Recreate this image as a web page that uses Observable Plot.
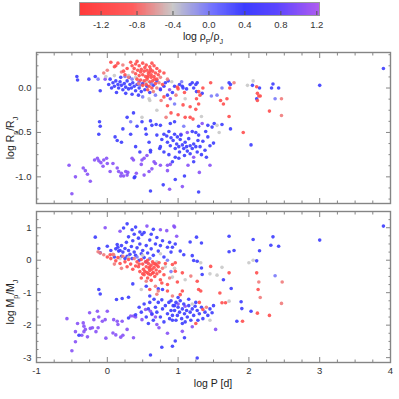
<!DOCTYPE html>
<html><head><meta charset="utf-8">
<script src="https://cdn.jsdelivr.net/npm/d3@7"></script>
<script src="https://cdn.jsdelivr.net/npm/@observablehq/plot@0.6"></script>
<style>
body{margin:0;background:#fff;}
#wrap{position:relative;width:399px;height:399px;font-family:"Liberation Sans",Arial,sans-serif;overflow:hidden;}
#wrap > div{position:absolute;left:0;}
svg{display:block;}
</style></head><body>
<div id="wrap"><div id="cb" style="top:0px"></div><div id="p1" style="top:48px"></div><div id="p2" style="top:206px"></div></div>
<script>
// colour codes (log rho_P/rho_J)
const R=-1.1, r=-0.72, g=-0.4, l=0.0, b=0.4, p=1.0;

// ---------- top panel: [log P, log Rp/RJ, log rhoP/rhoJ] ----------
const topRed=[[0.33,0.29,R],[0.40,0.27,R],[0.45,0.25,R],[0.50,0.28,R],[0.55,0.26,R],[0.60,0.24,R],[0.66,0.25,R],[0.70,0.22,R],[0.38,0.22,R],[0.43,0.20,R],[0.48,0.21,R],[0.52,0.19,R],[0.56,0.20,R],[0.60,0.18,R],[0.64,0.19,R],[0.68,0.17,R],[0.72,0.15,R],[0.40,0.16,R],[0.45,0.14,R],[0.50,0.15,R],[0.54,0.13,R],[0.58,0.14,R],[0.62,0.12,R],[0.66,0.13,R],[0.70,0.10,R],[0.75,0.12,r],[0.42,0.10,R],[0.47,0.09,R],[0.52,0.08,R],[0.56,0.10,R],[0.60,0.07,R],[0.64,0.08,R],[0.68,0.05,R],[0.73,0.06,r],[0.50,0.03,R],[0.55,0.04,R],[0.59,0.02,R],[0.63,0.00,R],[0.70,0.00,r],[0.57,-0.02,R],[0.65,-0.04,r],[0.78,0.04,R],[0.80,0.17,R],[0.85,0.10,r],[0.47,0.18,R],[0.53,0.23,R],[0.58,0.17,R],[0.61,0.21,R],[0.36,0.18,r],[0.57,0.12,R],[0.62,0.15,R],[0.67,0.10,R],[0.44,0.05,r],[0.74,0.19,R],[0.15,0.28,R],[0.22,0.26,r],[0.05,0.29,R],[0.10,0.24,R],[0.28,0.22,R],[0.20,0.18,r],[0.25,0.15,R],[0.30,0.12,r],[0.12,0.25,R],[0.23,0.19,R],[-0.05,0.17,r],[0.00,0.20,r],[0.35,0.25,R],[0.42,0.30,R],[0.63,0.28,R]];
const topBand=[[0.04,0.10,b],[0.08,0.06,b],[0.10,0.02,b],[0.12,0.08,b],[0.15,0.04,b],[0.16,0.00,b],[0.18,0.07,b],[0.20,0.03,b],[0.22,-0.02,b],[0.24,0.05,b],[0.26,0.01,b],[0.28,0.08,b],[0.30,-0.01,b],[0.32,0.04,b],[0.34,0.00,b],[0.36,0.06,b],[0.38,0.02,b],[0.40,-0.03,b],[0.42,0.04,b],[0.45,0.00,b],[0.48,-0.04,b],[0.50,0.05,b],[0.53,-0.02,b],[0.56,0.02,b],[0.60,-0.05,b],[0.65,0.03,b],[0.06,0.00,b],[0.13,-0.05,b],[0.26,-0.06,b],[0.35,-0.07,b],[0.44,-0.08,b],[0.02,0.04,b],[0.19,0.12,b],[0.31,0.12,b],[0.70,0.08,b],[0.75,-0.02,b],[0.80,0.02,b],[0.85,-0.08,b],[0.30,0.14,g],[0.35,0.10,l],[0.25,0.13,l],[0.40,0.12,g],[0.46,0.03,l],[0.55,0.07,g],[0.62,0.05,l],[0.10,0.14,g],[-0.02,0.13,g],[0.68,-0.08,l],[0.50,-0.10,l],[0.60,-0.14,g],[-0.03,0.10,p],[0.75,-0.01,p],[0.89,-0.12,p],[0.45,0.07,p],[-0.43,0.13,b],[-0.42,0.09,b],[-0.17,0.13,b],[-0.10,-0.03,b],[-0.13,0.10,l],[-0.26,0.10,b]];
const topTail=[[0.82,0.06,b],[0.86,0.08,b],[0.91,0.07,g],[0.95,0.02,b],[0.99,0.01,R],[1.00,-0.01,R],[0.88,-0.02,p],[0.92,-0.05,b],[0.97,-0.08,r],[1.02,0.04,b],[0.80,-0.10,R],[0.76,-0.14,r],[0.85,-0.20,R],[0.95,-0.18,l],[0.90,-0.28,R],[0.83,-0.33,r],[1.00,-0.30,R],[0.95,-0.38,b],[0.70,-0.25,g],[0.49,-0.33,g],[0.33,-0.38,l],[0.28,-0.33,b],[0.37,-0.28,b],[0.63,-0.42,b],[0.75,-0.42,b],[0.89,-0.40,b],[-0.10,-0.43,b],[0.59,-0.12,g],
[1.05,0.07,l],[1.06,0.02,b],[1.07,0.00,b],[1.12,-0.01,b],[1.09,-0.05,R],[1.17,0.04,b],[1.20,0.06,b],[1.25,0.04,b],[1.27,0.06,b],[1.22,0.00,b],[1.26,-0.04,b],[1.29,-0.04,R],[1.34,-0.06,b],[1.35,0.00,R],[1.10,-0.12,g],[1.07,-0.19,R],[1.17,-0.21,R],[1.25,-0.24,R],[1.29,-0.18,R],[1.26,-0.12,R],[1.31,-0.08,R],[1.46,0.06,R],[1.47,-0.09,l],[1.55,-0.08,l],[1.60,-0.14,R],[1.64,-0.18,R],[1.69,-0.12,R],[1.72,0.06,b],[1.74,0.04,b],[1.73,0.00,R],[1.62,0.00,l],[1.79,0.06,r],[1.98,0.03,g],[1.10,-0.33,R],[1.17,-0.33,R],[1.21,-0.35,R],[1.33,-0.32,g],[1.72,-0.32,R],[1.08,-0.43,l],[1.29,-0.43,b],[1.34,-0.40,p],[1.39,-0.49,b],[1.42,-0.42,b],[1.48,-0.44,b],[1.51,-0.40,b],[1.55,-0.42,g],[1.62,-0.41,b],[1.74,-0.46,b],[1.04,-0.52,p],[1.13,-0.50,p],[1.20,-0.49,b],[1.25,-0.50,b],[1.58,-0.50,g],[1.92,-0.50,R],
[2.06,0.08,g],[2.05,0.03,b],[2.11,0.015,R],[2.15,0.00,b],[2.12,-0.06,R],[2.14,-0.09,R],[2.16,-0.09,R],[2.11,-0.12,b],[2.12,-0.14,R],[2.29,-0.26,R],[2.32,0.00,b],[2.34,0.045,b],[2.42,0.00,b],[2.37,-0.12,l],[2.46,-0.12,r],[2.46,-0.31,r],[2.03,-0.64,b],[3.00,0.03,b],[3.90,0.22,b]];
const topBlueCloud=[[-0.11,-0.38,b],[-0.12,-0.52,b],[0.11,-0.55,b],[0.14,-0.59,b],[0.20,-0.61,b],[0.22,-0.46,b],[0.33,-0.52,b],[0.40,-0.66,b],[0.42,-0.43,b],[0.46,-0.72,b],[0.49,-0.38,b],[0.54,-0.46,b],[0.55,-0.52,b],[0.61,-0.37,b],[0.59,-0.61,b],[0.61,-0.70,b],[0.69,-0.41,b],[0.70,-0.53,b],[0.74,-0.68,b],[0.75,-0.66,b],[0.77,-0.58,b],[0.80,-0.52,b],[0.84,-0.54,b],[0.85,-0.61,b],[0.87,-0.49,b],[0.89,-0.65,b],[0.90,-0.56,b],[0.93,-0.59,b],[0.95,-0.52,b],[0.96,-0.68,b],[0.98,-0.63,b],[0.99,-0.55,b],[1.01,-0.66,b],[1.02,-0.72,b],[1.03,-0.58,b],[1.04,-0.53,b],[1.06,-0.64,b],[1.08,-0.68,b],[1.09,-0.76,b],[1.10,-0.61,b],[1.12,-0.66,b],[1.13,-0.71,b],[1.15,-0.57,b],[1.17,-0.65,b],[1.17,-0.74,b],[1.20,-0.68,b],[1.22,-0.63,b],[1.25,-0.66,b],[1.27,-0.72,b],[1.28,-0.59,b],[1.29,-0.53,b],[1.31,-0.66,b],[1.01,-0.79,b],[0.96,-0.78,b],[0.87,-0.75,b],[0.80,-0.72,b],[0.92,-0.83,b],[1.22,-0.83,b],[1.35,-0.60,b],[1.38,-0.70,b],[1.42,-0.55,b],[1.45,-0.65,b],[1.40,-0.78,b],[1.50,-0.62,b],[1.33,-0.75,b],[0.79,-1.09,b],[0.61,-1.16,b],[1.29,-1.17,b],[0.39,-1.00,b],[0.96,-1.03,b],[1.09,-0.99,b],[0.61,-0.72,b],[0.38,-1.01,b]];
const topPurple=[[-0.54,-0.87,p],[-0.50,-1.19,p],[-0.45,-1.00,p],[-0.34,-0.90,p],[-0.31,-0.93,p],[-0.28,-0.97,p],[-0.24,-1.05,p],[-0.18,-0.81,p],[-0.14,-0.79,p],[-0.12,-0.82,p],[-0.09,-0.84,p],[-0.06,-0.88,p],[-0.05,-0.81,p],[-0.01,-0.79,p],[0.00,-0.85,p],[0.04,-0.94,p],[0.08,-0.85,p],[0.14,-0.90,p],[0.16,-0.94,p],[0.19,-0.99,p],[0.20,-0.96,p],[0.23,-0.99,p],[0.26,-0.94,p],[0.28,-0.98,p],[0.29,-0.95,p],[0.35,-0.79,p],[0.37,-0.81,p],[0.41,-0.96,p],[0.48,-0.86,p],[0.49,-0.81,p],[0.52,-0.79,p],[0.52,-0.98,p],[0.56,-0.76,p],[0.59,-0.94,p],[0.63,-0.91,p],[0.66,-0.83,p],[0.68,-0.85,p],[0.75,-0.87,p],[0.85,-0.87,p],[0.85,-0.93,p],[0.89,-0.86,p],[1.14,-0.87,p],[1.22,-0.78,p],[0.88,-1.14,p],[1.06,-1.11,p],[1.30,-0.95,p],[1.45,-0.87,p]];

// ---------- bottom panel: [log P, log Mp/MJ, log rhoP/rhoJ] ----------
const botUpper=[[-0.03,1.00,p],[0.18,0.89,p],[0.23,0.99,b],[0.28,1.12,b],[0.35,0.94,b],[0.46,0.87,b],[0.49,0.79,b],[0.56,1.05,p],[0.75,0.94,p],[0.84,0.91,p],[0.94,1.05,p],[-0.17,0.71,b],[0.00,0.43,b],[-0.10,0.23,b],[-0.12,0.36,b],[0.14,0.48,b],[0.16,0.28,b],[0.12,0.35,b],[0.15,0.40,b],[0.18,0.30,b],[0.20,0.45,b],[0.22,0.25,b],[0.25,0.36,b],[0.27,0.55,b],[0.30,0.30,b],[0.32,0.18,b],[0.34,0.42,b],[0.36,0.60,b],[0.38,0.25,b],[0.40,0.15,b],[0.42,0.38,b],[0.44,0.68,b],[0.46,0.50,b],[0.48,0.20,b],[0.50,0.30,b],[0.52,0.08,b],[0.55,0.45,b],[0.57,0.22,b],[0.60,0.62,b],[0.62,0.35,b],[0.65,0.15,b],[0.68,0.50,b],[0.70,0.70,b],[0.72,0.28,b],[0.75,0.45,b],[0.78,0.60,b],[0.80,0.10,b],[0.85,0.40,b],[0.88,0.55,b],[0.90,0.25,b],[0.25,0.05,b],[0.28,0.12,b],[0.35,0.05,b],[0.45,0.00,b],[0.55,-0.05,b],[0.10,0.10,b],[0.20,0.12,b],[0.38,0.80,b],[0.52,0.85,b],[0.30,0.72,b],[0.62,0.80,b],[0.05,0.30,b],[0.65,0.95,b],[0.40,1.02,b],[0.30,0.08,g],[0.42,0.10,l],[0.50,0.15,g],[0.60,0.05,l],[0.70,-0.05,g],[0.75,0.20,g],[0.18,0.05,g],[0.85,0.00,l],[0.82,-0.20,g],[0.90,-0.35,l],[0.95,-0.25,g]];
const botRed=[[-0.13,0.26,r],[-0.05,0.17,r],[0.04,0.17,R],[0.09,0.17,r],[-0.10,0.22,r],[0.00,0.10,R],[0.05,0.05,R],[0.08,0.18,r],[0.12,-0.02,R],[0.15,0.08,R],[0.18,-0.10,R],[0.22,0.12,r],[0.25,-0.05,R],[0.28,-0.20,R],[0.30,0.02,R],[0.33,-0.12,R],[0.36,-0.28,R],[0.38,0.05,r],[0.40,-0.18,R],[0.20,-0.25,r],[0.10,-0.12,r],[0.42,-0.05,R],[0.44,-0.20,R],[0.46,-0.35,R],[0.48,0.02,R],[0.50,-0.12,R],[0.51,-0.28,R],[0.52,-0.45,R],[0.54,-0.05,R],[0.55,-0.20,R],[0.56,-0.38,R],[0.57,-0.55,R],[0.58,-0.10,R],[0.59,-0.25,R],[0.60,-0.32,R],[0.61,-0.45,R],[0.62,-0.15,R],[0.63,-0.28,R],[0.64,-0.05,R],[0.65,-0.38,R],[0.66,-0.22,R],[0.67,-0.50,R],[0.68,-0.12,R],[0.69,-0.30,R],[0.70,-0.42,R],[0.72,-0.20,R],[0.73,-0.08,R],[0.74,-0.35,R],[0.75,-0.60,R],[0.62,-0.62,R],[0.55,-0.65,r],[0.48,-0.55,R],[0.58,-0.42,R],[0.53,-0.35,R],[0.66,-0.10,R],[0.57,0.00,R],[0.60,-0.20,R],[0.64,-0.40,R],[0.70,-0.15,R],[0.50,-0.42,R],[0.45,-0.12,R],[0.78,-0.25,r],[0.80,-0.45,R],[0.82,-0.10,R],[0.77,-0.70,R],[0.68,-0.80,r],[0.60,-0.90,R],[0.72,-0.95,r],[0.85,-0.75,R],[0.88,-0.55,r],[0.70,-1.05,r],[0.85,-0.95,R],[0.92,-1.10,r]];
const botRight=[[0.95,1.02,p],[0.98,0.74,p],[0.96,0.50,b],[0.92,0.40,b],[1.03,0.28,b],[1.08,0.17,b],[1.17,0.56,b],[1.26,0.71,b],[1.33,0.53,b],[1.72,0.74,b],[1.79,0.30,b],[1.72,0.26,b],[1.20,0.14,b],[1.22,-0.01,b],[1.27,-0.03,b],[1.32,-0.08,g],[1.33,-0.24,b],[1.46,-0.19,R],[1.62,-0.22,g],[1.72,-0.39,R],[1.45,-0.42,g],[1.55,-0.46,g],[1.34,-0.44,b],[1.27,-0.65,R],[1.18,-0.49,r],[1.10,-0.60,g],[0.99,-0.67,R],[0.92,-0.52,g],[1.06,-0.39,R],[0.96,-0.34,R],[0.92,-0.13,R],[0.96,-0.08,R],[1.03,-1.06,R],[1.06,-0.95,R],[1.29,-0.90,R],[1.32,-0.95,R],[1.59,-1.01,R],[1.64,-0.60,b],[1.75,-0.87,b],[1.62,-1.31,R],[1.67,-1.31,R],[1.72,-1.26,g],[1.89,-1.28,b],[1.90,-1.49,b],[1.91,-1.88,R],[1.83,-1.88,b],[1.27,-3.01,b],[0.96,-2.49,b],[1.09,-2.39,b],
[3.90,1.05,b],[3.00,0.62,b],[2.06,0.64,b],[2.15,0.29,b],[2.11,-0.02,b],[2.06,0.00,g],[2.00,-0.08,g],[2.34,0.72,b],[2.31,0.46,b],[2.42,0.43,b],[2.37,-0.48,l],[2.11,-0.39,R],[2.14,-0.67,r],[2.13,-0.90,R],[2.16,-1.15,r],[2.47,-0.67,r],[2.46,-1.33,r],[2.03,-1.57,b],[2.12,-1.63,R],[2.29,-1.70,R]];
const botBlueCloud=[[0.90,-1.25,b],[0.93,-1.40,b],[0.95,-1.55,b],[0.97,-1.30,b],[0.99,-1.70,b],[1.00,-1.45,b],[1.02,-1.60,b],[1.03,-1.25,b],[1.05,-1.80,b],[1.06,-1.50,b],[1.08,-1.35,b],[1.09,-1.65,b],[1.10,-1.90,b],[1.12,-1.55,b],[1.13,-1.75,b],[1.15,-1.40,b],[1.17,-1.60,b],[1.18,-1.85,b],[1.20,-1.50,b],[1.22,-1.70,b],[1.25,-1.30,b],[1.27,-1.55,b],[1.30,-1.65,b],[1.33,-1.45,b],[1.35,-1.80,b],[1.38,-1.60,b],[1.42,-1.70,b],[1.45,-1.50,b],[1.48,-1.62,b],[1.50,-1.40,b],[1.00,-1.15,b],[1.15,-1.20,b],[1.28,-1.85,b],[0.92,-1.85,b],[1.06,-1.95,b],[1.24,-1.42,b],[1.20,-1.35,g],[1.30,-1.30,R],[1.35,-1.52,R],[1.40,-1.45,r],[1.10,-1.42,p],[1.00,-1.35,p],[1.45,-1.85,g],[1.25,-1.95,R],
[0.45,-1.45,b],[0.48,-1.60,b],[0.52,-1.35,b],[0.55,-1.75,b],[0.58,-1.50,b],[0.60,-1.30,b],[0.63,-1.65,b],[0.65,-1.85,b],[0.68,-1.45,b],[0.70,-1.60,b],[0.72,-1.30,b],[0.75,-1.75,b],[0.78,-1.50,b],[0.80,-1.90,b],[0.82,-1.40,b],[0.85,-1.65,b],[0.87,-1.30,b],[0.88,-1.80,b],[0.90,-1.55,b],[0.92,-1.70,b],[0.95,-1.40,b],[0.97,-1.85,b],[0.77,-1.22,b],[0.66,-1.20,b],[0.58,-1.95,b],
[-0.12,-0.90,b],[-0.10,-1.04,b],[0.13,-1.21,b],[0.21,-1.18,b],[0.30,-1.14,b],[0.36,-0.73,b],[0.48,-0.90,g],[0.55,-0.80,b],[0.60,-1.10,b],[0.72,-0.88,b],[0.78,-0.90,b],[0.61,-2.92,b],[0.77,-2.68,b],[0.92,-2.65,b],[0.40,-1.68,b],[0.30,-1.78,b]];
const botPurple=[[-0.57,-1.80,p],[-0.50,-2.79,p],[-0.45,-2.20,p],[-0.42,-1.95,p],[-0.40,-2.31,b],[-0.45,-2.51,p],[-0.33,-2.20,p],[-0.28,-2.36,p],[-0.24,-2.10,p],[-0.36,-2.31,p],[-0.34,-1.93,p],[-0.33,-2.03,p],[-0.31,-2.13,p],[-0.25,-1.62,p],[-0.19,-1.83,p],[-0.14,-1.57,p],[-0.12,-1.75,p],[-0.07,-1.88,p],[-0.03,-1.83,p],[0.00,-1.57,p],[-0.13,-2.08,p],[-0.21,-2.08,p],[0.09,-1.83,p],[0.14,-1.88,p],[0.15,-1.98,p],[0.21,-1.88,p],[0.08,-2.24,p],[0.19,-2.37,p],[0.22,-2.31,p],[0.28,-2.13,p],[0.37,-2.39,p],[0.33,-1.72,p],[0.37,-1.72,p],[0.40,-1.75,p],[0.49,-1.83,p],[0.54,-1.52,p],[0.61,-1.57,p],[0.63,-1.67,p],[0.68,-1.75,p],[0.70,-1.98,p],[0.73,-2.08,p],[-0.16,-2.20,p],[-0.02,-2.40,p],[0.12,-2.30,p],[1.06,-2.19,p],[1.53,-2.13,p],[1.20,-2.05,p],[0.85,-2.25,p]];

// ticks
const xMajor=[-1,0,1,2,3,4];
const yTopMajor=[-1.0,-0.5,0.0];
const yBotMajor=[-3,-2,-1,0,1];
const cbTicks=[-1.2,-0.8,-0.4,0.0,0.4,0.8,1.2];
const cbDomain=[-1.44,1.23];

// colour palette
const colorStops=[-1.44,-0.85,-0.4,0.05,0.4,0.75,1.23];
const colorRange=["#ff3a3a","#ff5c5c","#c9c9c9","#7070ff","#3c3cff","#5a45ff","#b05cf0"];
const colorOpts={type:"linear",domain:colorStops,range:colorRange,clamp:true};

const font='"Liberation Sans", Arial, sans-serif';
const frameCol="#858585";

function tickMarks(xMinor, yMajor, yMinor){
  const m=[];
  for(const [ticks,size] of [[xMajor,5],[xMinor,2.5]]){
    m.push(Plot.axisX({anchor:"bottom",ticks,tickSize:size,dy:-size,tickFormat:()=>"",stroke:frameCol,label:null}));
    m.push(Plot.axisX({anchor:"top",ticks,tickSize:size,dy:size,tickFormat:()=>"",stroke:frameCol,label:null}));
  }
  for(const [ticks,size] of [[yMajor,5],[yMinor,2.5]]){
    m.push(Plot.axisY({anchor:"left",ticks,tickSize:size,dx:size,tickFormat:()=>"",stroke:frameCol,label:null}));
    m.push(Plot.axisY({anchor:"right",ticks,tickSize:size,dx:-size,tickFormat:()=>"",stroke:frameCol,label:null}));
  }
  return m;
}

function panel(data,{height,mt,mb,yDomain,yMajor,yMinor,yFmt,xLabels}){
  const xMinor=d3.range(-1,4.001,0.25).filter(v=>!xMajor.includes(v));
  const pts=d3.sort(data,d=>-d[2]);
  const marks=[
    Plot.dot(pts,{x:d=>d[0],y:d=>d[1],fill:d=>d[2],r:1.8,fillOpacity:0.9}),
    Plot.frame({stroke:frameCol,strokeWidth:1.4}),
    ...tickMarks(xMinor,yMajor,yMinor),
    Plot.axisY({anchor:"left",ticks:yMajor,tickSize:0,tickPadding:5,tickFormat:yFmt,label:null,fill:"#333"})
  ];
  if(xLabels) marks.push(Plot.axisX({anchor:"bottom",ticks:xMajor,tickSize:0,tickPadding:5,tickFormat:d=>String(d),label:null,fill:"#333"}));
  return Plot.plot({
    width:399,height,marginLeft:36,marginRight:9,marginTop:mt,marginBottom:mb,
    style:{fontFamily:font,fontSize:"9.5px",background:"transparent",overflow:"visible"},
    x:{domain:[-1,4]},y:{domain:yDomain},color:colorOpts,marks
  });
}

function addText(svg,x,y,rot,parts,size){
  const t=d3.select(svg).append("text")
    .attr("transform",`translate(${x},${y}) rotate(${rot})`)
    .attr("text-anchor","middle").attr("fill","#222")
    .style("font-family",font).style("font-size",size+"px");
  for(const [s,sub] of parts){
    const ts=t.append("tspan").text(s);
    if(sub) ts.attr("baseline-shift","sub").style("font-size",(size*0.68)+"px");
  }
}

// colour bar
const cbSteps=d3.range(cbDomain[0],cbDomain[1],0.01);
const cb=Plot.plot({
  width:399,height:48,marginLeft:79,marginRight:80,marginTop:2,marginBottom:33,
  style:{fontFamily:font,fontSize:"9.5px",background:"transparent",overflow:"visible"},
  x:{domain:cbDomain},y:{domain:[0,1],axis:null},color:colorOpts,
  marks:[
    Plot.rect(cbSteps,{x1:d=>d,x2:d=>Math.min(d+0.03,cbDomain[1]),y1:0,y2:1,fill:d=>d,shapeRendering:"crispEdges"}),
    Plot.frame({stroke:"#999",strokeWidth:1}),
    Plot.axisX({anchor:"bottom",ticks:cbTicks,tickSize:4,dy:-4,tickFormat:()=>"",stroke:"#555",label:null}),
    Plot.axisX({anchor:"bottom",ticks:cbTicks,tickSize:0,tickPadding:6,tickFormat:d=>d.toFixed(1),label:null,fill:"#333"})
  ]
});
addText(cb,203,40,0,[["log ρ",0],["P",1],["/ρ",0],["J",1]],10.5);
document.getElementById("cb").appendChild(cb);

const p1=panel([...topBlueCloud,...topPurple,...topBand,...topTail,...topRed],{
  height:158,mt:4,mb:3,yDomain:[-1.3,0.4],yMajor:yTopMajor,
  yMinor:d3.range(-1.25,0.4,0.125).filter(v=>Math.abs((v*2)-Math.round(v*2))>1e-6),
  yFmt:d=>d.toFixed(1),xLabels:false});
addText(p1,14,90,-90,[["log R",0],["p",1],["/R",0],["J",1]],10.5);
document.getElementById("p1").appendChild(p1);

const p2=panel([...botBlueCloud,...botPurple,...botUpper,...botRight,...botRed],{
  height:193,mt:5,mb:37,yDomain:[-3.15,1.5],yMajor:yBotMajor,
  yMinor:d3.range(-3,1.5,0.25).filter(v=>!Number.isInteger(v)),
  yFmt:d=>String(d),xLabels:true});
addText(p2,14,96,-90,[["log M",0],["p",1],["/M",0],["J",1]],10.5);
addText(p2,213,181,0,[["log P [d]",0]],10.5);
document.getElementById("p2").appendChild(p2);
</script>
</body></html>
